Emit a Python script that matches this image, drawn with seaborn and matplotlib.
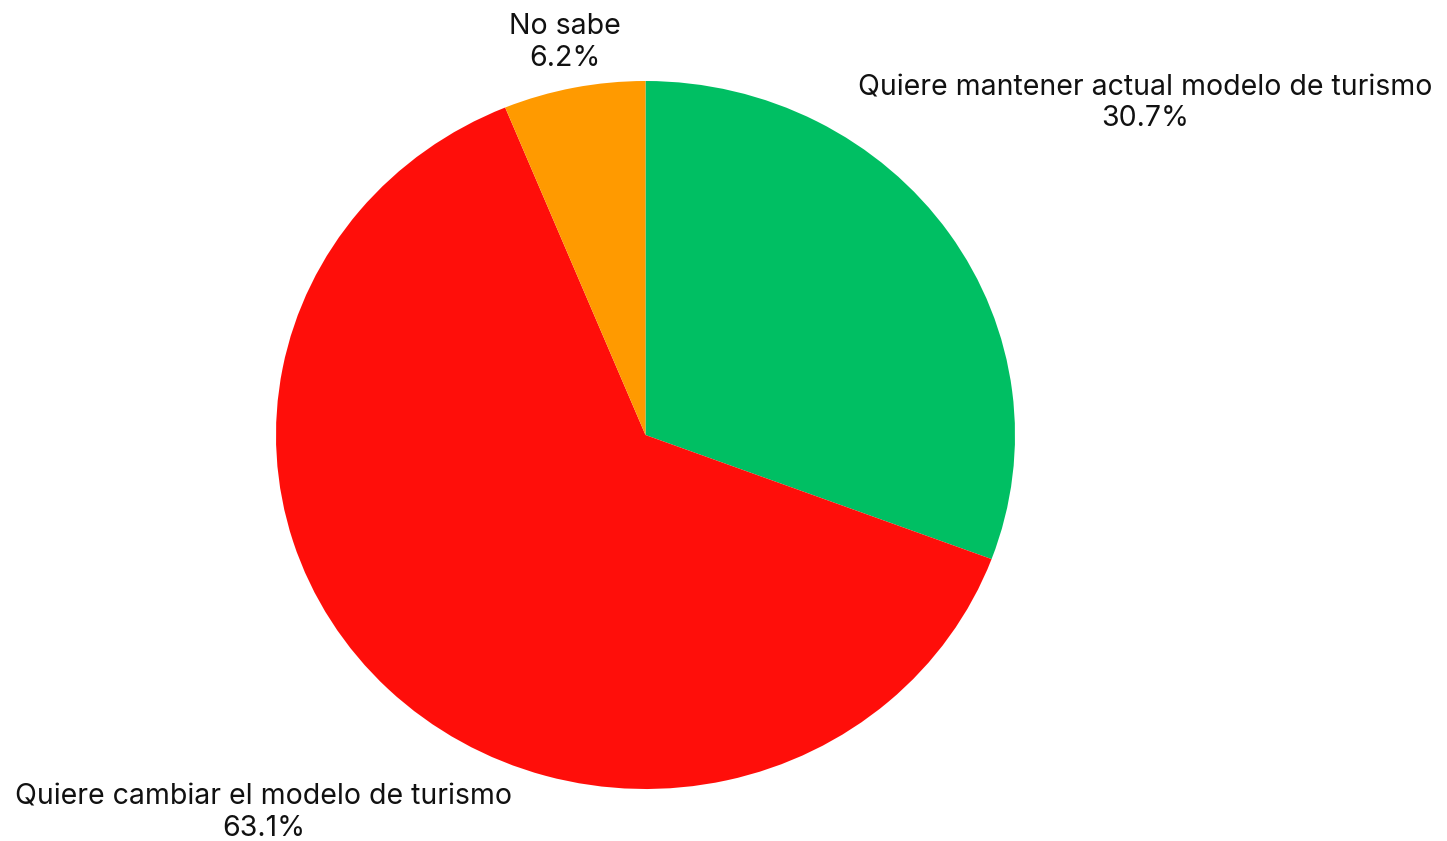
import numpy as np
import matplotlib
matplotlib.use('Agg')
import matplotlib.pyplot as plt
import seaborn as sns

# data
categories = ['Quiere mantener actual modelo de turismo',
              'Quiere cambiar el modelo de turismo',
              'No sabe']
shares = [30.7, 63.1, 6.2]
colors = ['#00BF63', '#FF0E0A', '#FF9A00']

# how far out each label sits (in pie radii), chosen to match the picture
label_dist = [1.645, 1.485, 1.13]

sns.set_theme(style='white')
plt.rcParams['font.family'] = ['Inter', 'DejaVu Sans']

fig = plt.figure(figsize=(14.47, 8.41), dpi=100)
ax = fig.add_axes([0, 0, 1, 1])

wedges, _ = ax.pie(shares, colors=sns.color_palette(colors), startangle=90,
                   counterclock=False, wedgeprops=dict(linewidth=0))

# pie is slightly wider than tall in the reference
ax.set_aspect('auto')
sx, sy = 369.5, 354.0
cx, cy = 645.5, 841 - 435
ax.set_xlim(-cx / sx, (1447 - cx) / sx)
ax.set_ylim(-cy / sy, (841 - cy) / sy)
ax.axis('off')

for w, name, val, d in zip(wedges, categories, shares, label_dist):
    ang = np.deg2rad((w.theta1 + w.theta2) / 2)
    ax.text(d * np.cos(ang), d * np.sin(ang), f'{name}\n{val}%',
            ha='center', va='center', fontsize=20.5, color='#111111',
            linespacing=1.2)

fig.savefig('out.png', dpi=100)
